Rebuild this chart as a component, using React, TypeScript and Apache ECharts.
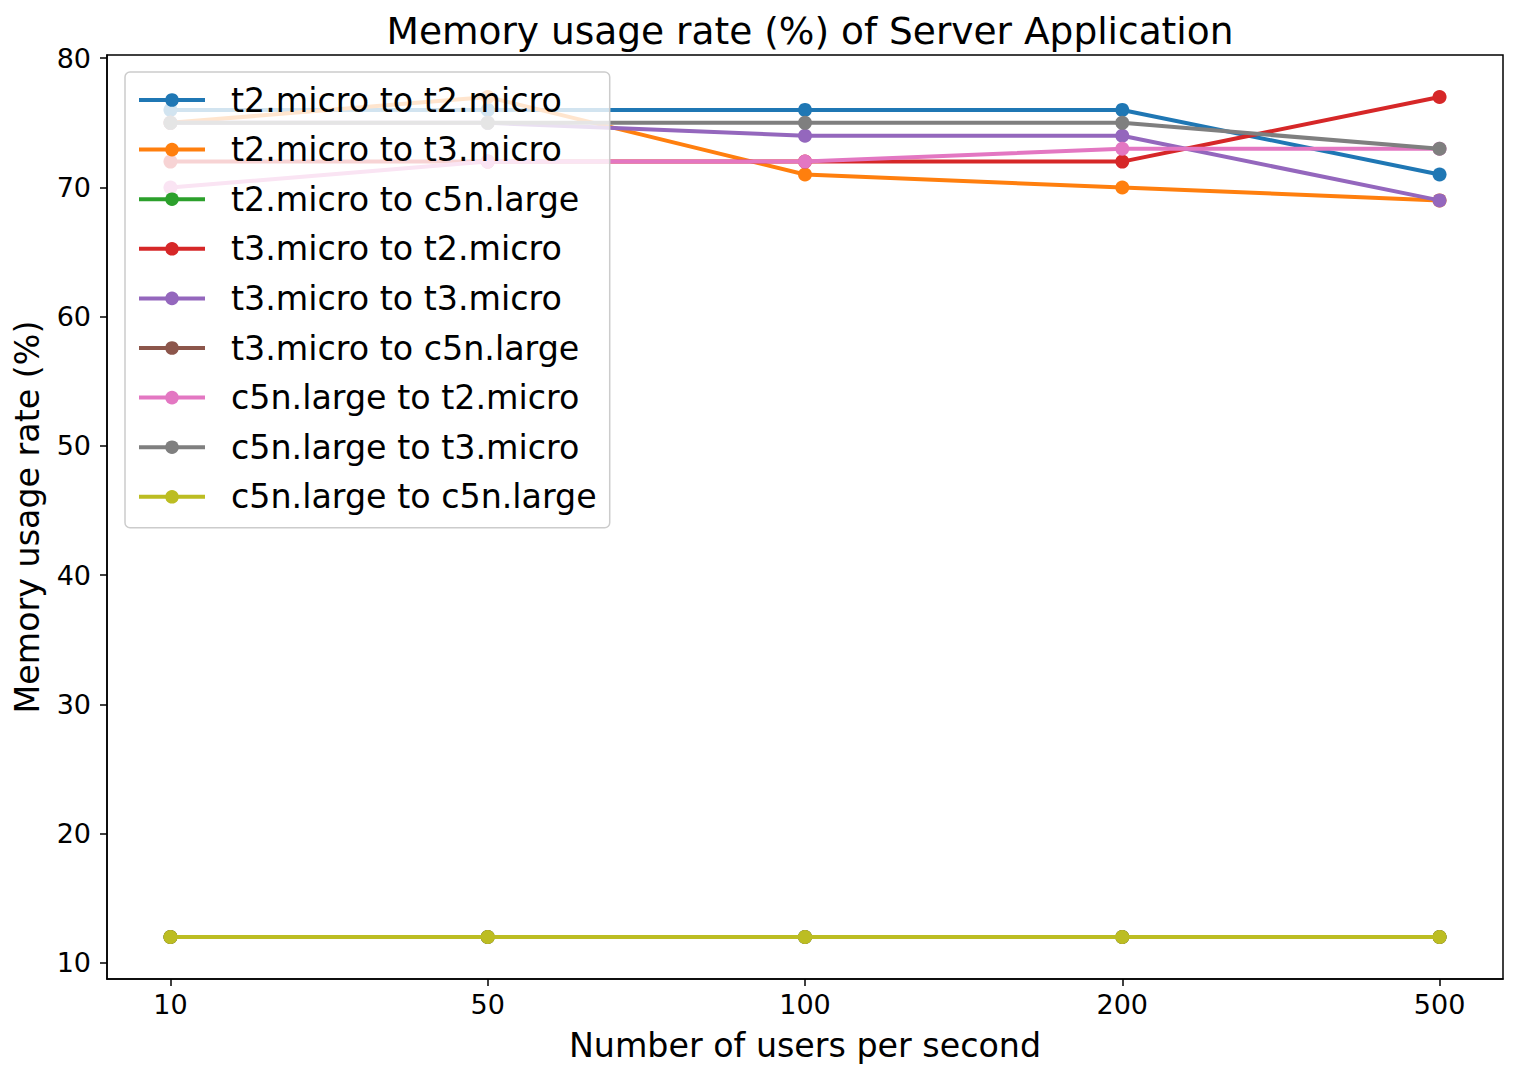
import React, { useEffect, useRef } from "react";
import * as echarts from "echarts";

const categories = ["10", "50", "100", "200", "500"];
const seriesNames = [
  "t2.micro to t2.micro",
  "t2.micro to t3.micro",
  "t2.micro to c5n.large",
  "t3.micro to t2.micro",
  "t3.micro to t3.micro",
  "t3.micro to c5n.large",
  "c5n.large to t2.micro",
  "c5n.large to t3.micro",
  "c5n.large to c5n.large",
];
const t2_t2 = [76, 76, 76, 76, 71];
const t2_t3 = [75, 77, 71, 70, 69];
const t2_c5n = [12, 12, 12, 12, 12];
const t3_t2 = [72, 72, 72, 72, 77];
const t3_t3 = [75, 75, 74, 74, 69];
const t3_c5n = [12, 12, 12, 12, 12];
const c5n_t2 = [70, 72, 72, 73, 73];
const c5n_t3 = [75, 75, 75, 75, 73];
const c5n_c5n = [12, 12, 12, 12, 12];
const yTicks = [10, 20, 30, 40, 50, 60, 70, 80];

const seriesValues = [t2_t2, t2_t3, t2_c5n, t3_t2, t3_t3, t3_c5n, c5n_t2, c5n_t3, c5n_c5n];
const colors = ["#1f77b4", "#ff7f0e", "#2ca02c", "#d62728", "#9467bd", "#8c564b", "#e377c2", "#7f7f7f", "#bcbd22"];

const FONT = "DejaVu Sans";

export default function App() {
  const ref = useRef<HTMLDivElement>(null);
  useEffect(() => {
    document.body.style.margin = "0";
    const chart = echarts.init(ref.current!, null, { renderer: "svg" });
    chart.setOption({
      animation: false,
      color: colors,
      textStyle: { fontFamily: FONT, color: "#000" },
      title: {
        text: "Memory usage rate (%) of Server Application",
        left: 805,
        textAlign: "center",
        top: 7,
        textStyle: { fontFamily: FONT, fontSize: 37.5, fontWeight: "normal", color: "#000" },
      },
      grid: {
        left: 107,
        top: 55,
        width: 1396,
        height: 924,
        show: true,
        borderColor: "#000",
        borderWidth: 1.5,
        backgroundColor: "transparent",
      },
      legend: {
        orient: "vertical",
        left: 125,
        top: 72,
        padding: [10, 13, 13, 12],
        itemWidth: 66,
        itemHeight: 17,
        itemGap: 13.6,
        backgroundColor: "rgba(255,255,255,0.8)",
        borderColor: "#cccccc",
        borderWidth: 1.5,
        borderRadius: 5,
        lineStyle: { width: 4 },
        textStyle: { fontFamily: FONT, fontSize: 33.3, color: "#000", lineHeight: 36, padding: [0, 0, 0, 21] },
        data: seriesNames,
      },
      xAxis: {
        type: "value",
        min: -0.2,
        max: 4.2,
        name: "Number of users per second",
        nameLocation: "middle",
        nameGap: 50,
        nameTextStyle: { fontFamily: FONT, fontSize: 33.3, color: "#000" },
        axisLine: { show: true, onZero: false, lineStyle: { color: "#000", width: 1.5 } },
        axisTick: { show: true, length: 7, lineStyle: { color: "#000", width: 1.5 }, customValues: [0, 1, 2, 3, 4] },
        axisLabel: {
          fontFamily: FONT,
          fontSize: 27,
          color: "#000",
          margin: 12,
          customValues: [0, 1, 2, 3, 4],
          formatter: (v: number) => categories[Math.round(v)] ?? "",
        },
        splitLine: { show: false },
      },
      yAxis: {
        type: "value",
        min: 8.75,
        max: 80.25,
        name: "Memory usage rate (%)",
        nameLocation: "middle",
        nameGap: 63,
        nameTextStyle: { fontFamily: FONT, fontSize: 33.3, color: "#000" },
        axisLine: { show: true, onZero: false, lineStyle: { color: "#000", width: 1.5 } },
        axisTick: { show: true, length: 7, lineStyle: { color: "#000", width: 1.5 }, customValues: yTicks },
        axisLabel: {
          fontFamily: FONT,
          fontSize: 27,
          color: "#000",
          margin: 16,
          customValues: yTicks,
          formatter: (v: number) => String(Math.round(v)),
        },
        splitLine: { show: false },
      },
      series: seriesNames.map((name, i) => ({
        name,
        type: "line",
        data: seriesValues[i].map((v, j) => [j, v]),
        symbol: "circle",
        symbolSize: 14,
        showSymbol: true,
        lineStyle: { width: 4, color: colors[i] },
        itemStyle: { color: colors[i], borderWidth: 0 },
        emphasis: { disabled: true },
        z: 2 + i * 0.01,
      })),
    });
    return () => chart.dispose();
  }, []);
  return <div ref={ref} style={{ width: 1517, height: 1078 }} />;
}
